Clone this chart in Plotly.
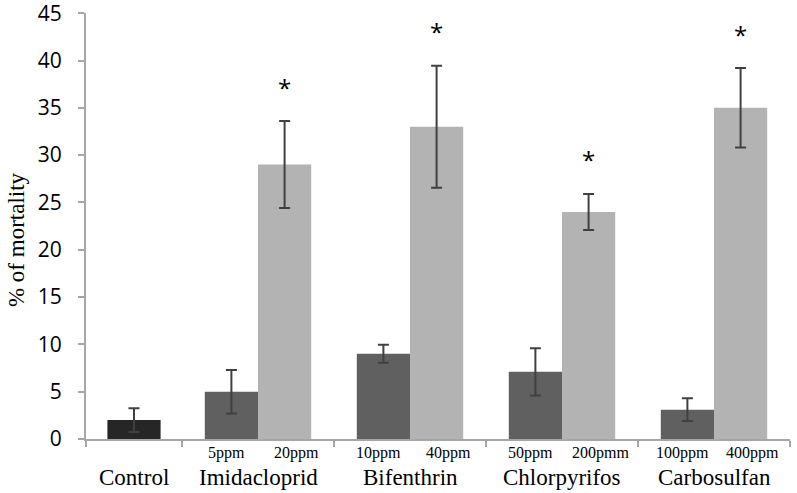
import plotly.graph_objects as go

# ---- data ----
groups = ["Imidacloprid", "Bifenthrin", "Chlorpyrifos", "Carbosulfan"]
low_labels = ["5ppm", "10ppm", "50ppm", "100ppm"]
high_labels = ["20ppm", "40ppm", "200pmm", "400ppm"]
low_values = [5.0, 9.0, 7.1, 3.1]
low_errors = [2.3, 0.95, 2.5, 1.2]
high_values = [29.0, 33.0, 24.0, 35.0]
high_errors = [4.6, 6.45, 1.9, 4.2]
control_label = "Control"
control_value = [2.0]
control_error = [1.25]
significant = [True, True, True, True]
y_ticks = [0, 5, 10, 15, 20, 25, 30, 35, 40, 45]

# ---- layout helpers ----
bar_w = 0.35
x_left = -0.1316
group_x = [i + 1 for i in range(len(groups))]
control_x = (x_left + 0.5) / 2
low_x = [g - bar_w / 2 for g in group_x]
high_x = [g + bar_w / 2 for g in group_x]

err_style = dict(type="data", visible=True, color="#404040", thickness=2, width=5.5)

fig = go.Figure()
fig.add_trace(go.Bar(x=[control_x], y=control_value, width=bar_w,
                     marker=dict(color="#262626", line=dict(width=0)),
                     error_y=dict(array=control_error, **err_style), showlegend=False))
fig.add_trace(go.Bar(x=low_x, y=low_values, width=bar_w,
                     marker=dict(color="#606060", line=dict(width=0)),
                     error_y=dict(array=low_errors, **err_style), showlegend=False))
fig.add_trace(go.Bar(x=high_x, y=high_values, width=bar_w,
                     marker=dict(color="#b3b3b3", line=dict(width=0)),
                     error_y=dict(array=high_errors, **err_style), showlegend=False))

ann = []
serif = "Times New Roman, Liberation Serif, serif"
for g, lo, hi in zip(group_x, low_labels, high_labels):
    ann.append(dict(x=g - 0.21, y=0, xref="x", yref="paper", text=lo, showarrow=False,
                    yanchor="middle", yshift=-14,
                    font=dict(family=serif, size=16, color="black")))
    ann.append(dict(x=g + 0.25, y=0, xref="x", yref="paper", text=hi, showarrow=False,
                    yanchor="middle", yshift=-14,
                    font=dict(family=serif, size=16, color="black")))
for x, t in zip([control_x] + group_x, [control_label] + groups):
    ann.append(dict(x=x, y=0, xref="x", yref="paper", text=t, showarrow=False,
                    yanchor="middle", yshift=-38,
                    font=dict(family=serif, size=23, color="black")))
for x, v, e, s in zip(high_x, high_values, high_errors, significant):
    if s:
        ann.append(dict(x=x, y=v + e + 3.6, xref="x", yref="y", text="*", showarrow=False,
                        yanchor="middle",
                        font=dict(family="Open Sans, sans-serif", size=24, color="black")))
ann.append(dict(x=0, y=0.467, xref="paper", yref="paper", text="% of mortality",
                showarrow=False, textangle=-90, xshift=-70, xanchor="center", yanchor="middle",
                font=dict(family=serif, size=23, color="black")))

fig.update_layout(
    width=797, height=493,
    margin=dict(l=86, r=7, t=13, b=54, autoexpand=False),
    paper_bgcolor="white", plot_bgcolor="white",
    barmode="overlay",
    annotations=ann,
    xaxis=dict(range=[x_left, 4.5], showgrid=False, zeroline=False, automargin=False,
               showline=True, linecolor="#a6a6a6", linewidth=2,
               tickmode="array", tickvals=[x_left, 0.5, 1.5, 2.5, 3.5, 4.5],
               ticktext=[""] * 6, ticks="outside", ticklen=6,
               tickcolor="#a6a6a6", tickwidth=2),
    yaxis=dict(range=[0, 45.02], showgrid=False, zeroline=False, automargin=False,
               showline=True, linecolor="#a6a6a6", linewidth=2,
               tickmode="array", tickvals=y_ticks, ticktext=[str(v) for v in y_ticks],
               ticklabelstandoff=12, ticklabeloverflow="allow",
               ticks="outside", ticklen=6, tickcolor="#a6a6a6", tickwidth=2,
               tickfont=dict(family="Open Sans, sans-serif", size=21, color="black")),
)

fig.write_html("out.html", config={"displayModeBar": False},
               post_script="document.body.style.margin='0';document.body.style.overflow='hidden';")
